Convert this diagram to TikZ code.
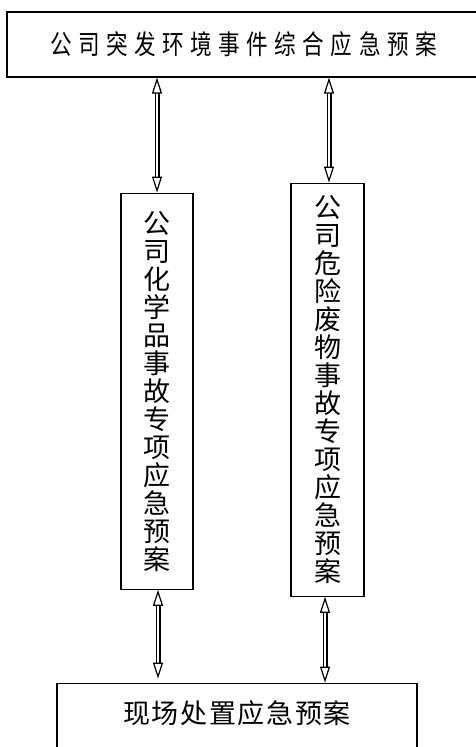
\documentclass[tikz,border=0pt]{standalone}
\usepackage{fontspec}
\newfontfamily\cjk{Noto Sans CJK SC}
\newcommand\tightlines{\lineskiplimit=-40pt\relax}
\usetikzlibrary{positioning,arrows.meta}
\tikzset{plan/.style={draw,line width=1.2pt,align=center,inner sep=0pt},
 column/.style={plan,font={\cjk\fontsize{27}{28}\selectfont\tightlines}},
 link/.style={double,line width=1.2pt,double distance=2.6pt,
  {Triangle[open,length=16pt,width=10pt]}-{Triangle[open,length=16pt,width=10pt]}}}

\begin{document}
\begin{tikzpicture}[x=1pt,y=1pt]
\useasboundingbox (0,0) rectangle (475,-747);

\node[plan,minimum width=473pt,minimum height=65pt,
  font={\cjk\fontsize{27}{27}\selectfont\addfontfeature{FakeStretch=0.8,LetterSpace=24}}] (TOP) at (243.5,-44.5)
  {公司突发环境事件综合应急预案};
\node[column,minimum width=72pt,minimum height=396pt,anchor=north west,
  below right=115pt and 114pt of TOP.south west] (CHEM)
  {公\\司\\化\\学\\品\\事\\故\\专\\项\\应\\急\\预\\案};
\node[column,minimum width=73pt,minimum height=413pt,anchor=north west,
  below right=105pt and 284pt of TOP.south west] (WASTE)
  {公\\司\\危\\险\\废\\物\\事\\故\\专\\项\\应\\急\\预\\案};
\node[plan,minimum width=360pt,minimum height=80pt,text depth=23pt,anchor=north west,
  below right=605pt and 50pt of TOP.south west,
  font={\cjk\fontsize{27}{27}\selectfont\addfontfeature{LetterSpace=6}}] (SITE)
  {现场处置应急预案};

\draw[link] (TOP.south -| CHEM.north) -- (CHEM.north);
\draw[link] ([xshift=1.5pt]TOP.south -| WASTE.north) -- ([xshift=1.5pt]WASTE.north);
\draw[link] ([xshift=1pt]CHEM.south) -- ([xshift=1pt,yshift=4pt]CHEM.south |- SITE.north);
\draw[link] ([xshift=-2.5pt]WASTE.south) -- ([xshift=-2.5pt]WASTE.south |- SITE.north);
\end{tikzpicture}
\end{document}
